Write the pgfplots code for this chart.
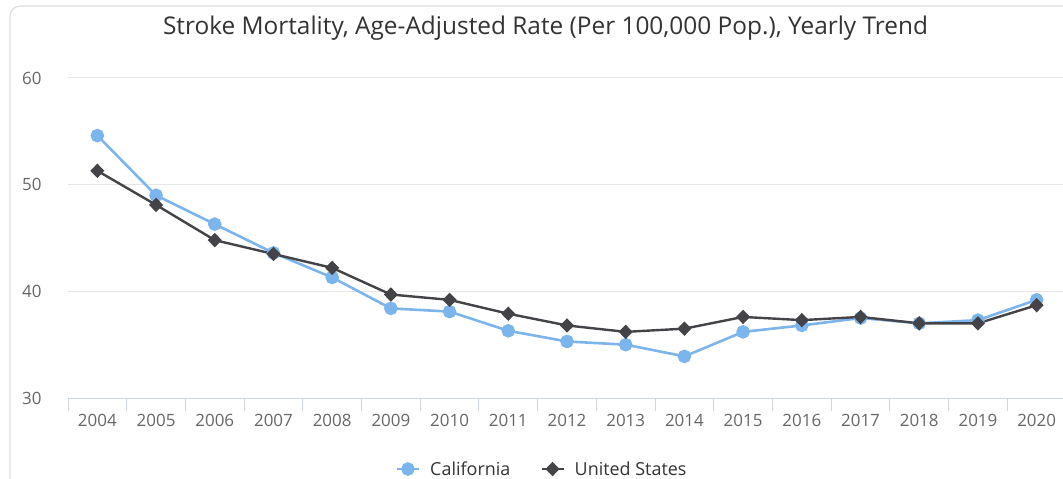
\documentclass[border=0pt]{standalone}
\usepackage{pgfplots}
\pgfplotsset{compat=1.18}
\usepackage{fontspec}
\setmainfont{Open Sans}
\definecolor{ca}{HTML}{7CB5EC}
\definecolor{us}{HTML}{434348}
\definecolor{gridc}{HTML}{E6E6E6}
\definecolor{axc}{HTML}{CCD6EB}
\definecolor{lab}{HTML}{666666}
\definecolor{tit}{HTML}{333333}
\definecolor{card}{HTML}{DDDDDD}
\begin{document}
\begin{tikzpicture}
\path[use as bounding box] (0,0) rectangle (1063bp,479bp);
\clip (0,0) rectangle (1063bp,479bp);
\draw[card, line width=1.2bp, rounded corners=10bp] (10bp,-5bp) -- (10bp,473bp) -- (1080bp,473bp);
\node[text=tit, font=\fontsize{24.5}{28}\selectfont] at (545.5bp,451bp) {Stroke Mortality, Age-Adjusted Rate (Per 100,000 Pop.), Yearly Trend};
\begin{axis}[
  at={(68bp,81bp)}, anchor=south west,
  width=998bp, height=320bp, scale only axis,
  xmin=-0.5, xmax=16.5, ymin=30, ymax=60,
  ytick={30,40,50,60},
  xtick={0,...,16},
  xticklabels={2004,2005,2006,2007,2008,2009,2010,2011,2012,2013,2014,2015,2016,2017,2018,2019,2020},
  minor xtick={-0.5,0.5,...,16.5},
  axis x line*=bottom, axis y line*=left,
  x axis line style={axc, line width=1bp, -},
  y axis line style={draw=none},
  tick align=outside,
  major tick length=0pt,
  minor tick length=13bp,
  minor x tick style={axc, line width=1bp},
  ymajorgrids,
  grid style={gridc, line width=1bp},
  /pgf/number format/assume math mode=true,
  ticklabel style={font=\fontsize{17}{17}\selectfont, text=lab},
  xticklabel style={yshift=-13bp},
  yticklabel style={xshift=-23bp},
  legend style={at={(0.475,-0.222)}, anchor=center, draw=none, fill=none,
    font=\fontsize{18}{18}\selectfont, text=tit,
    /tikz/every odd column/.append style={column sep=8bp},
    /tikz/every even column/.append style={column sep=28bp}},
  legend columns=2,
  legend image code/.code={\draw[mark repeat=2,mark phase=2,#1] plot coordinates {(0bp,0bp) (11bp,0bp) (22bp,0bp)};},
]
\addplot[ca, line width=2.6bp, mark=*, mark size=5.5bp, mark options={solid}] coordinates {
(0,54.6) (1,49.0) (2,46.3) (3,43.6) (4,41.3) (5,38.4) (6,38.1) (7,36.3) (8,35.3)
(9,35.0) (10,33.9) (11,36.2) (12,36.8) (13,37.5) (14,37.0) (15,37.3) (16,39.2)};
\addlegendentry{California}
\addplot[us, line width=2.4bp, mark=diamond*, mark size=5.5bp, mark options={solid, xscale=1.3}] coordinates {
(0,51.3) (1,48.1) (2,44.8) (3,43.5) (4,42.2) (5,39.7) (6,39.2) (7,37.9) (8,36.8)
(9,36.2) (10,36.5) (11,37.6) (12,37.3) (13,37.6) (14,37.0) (15,37.0) (16,38.7)};
\addlegendentry{United States}
\end{axis}
\end{tikzpicture}
\end{document}
